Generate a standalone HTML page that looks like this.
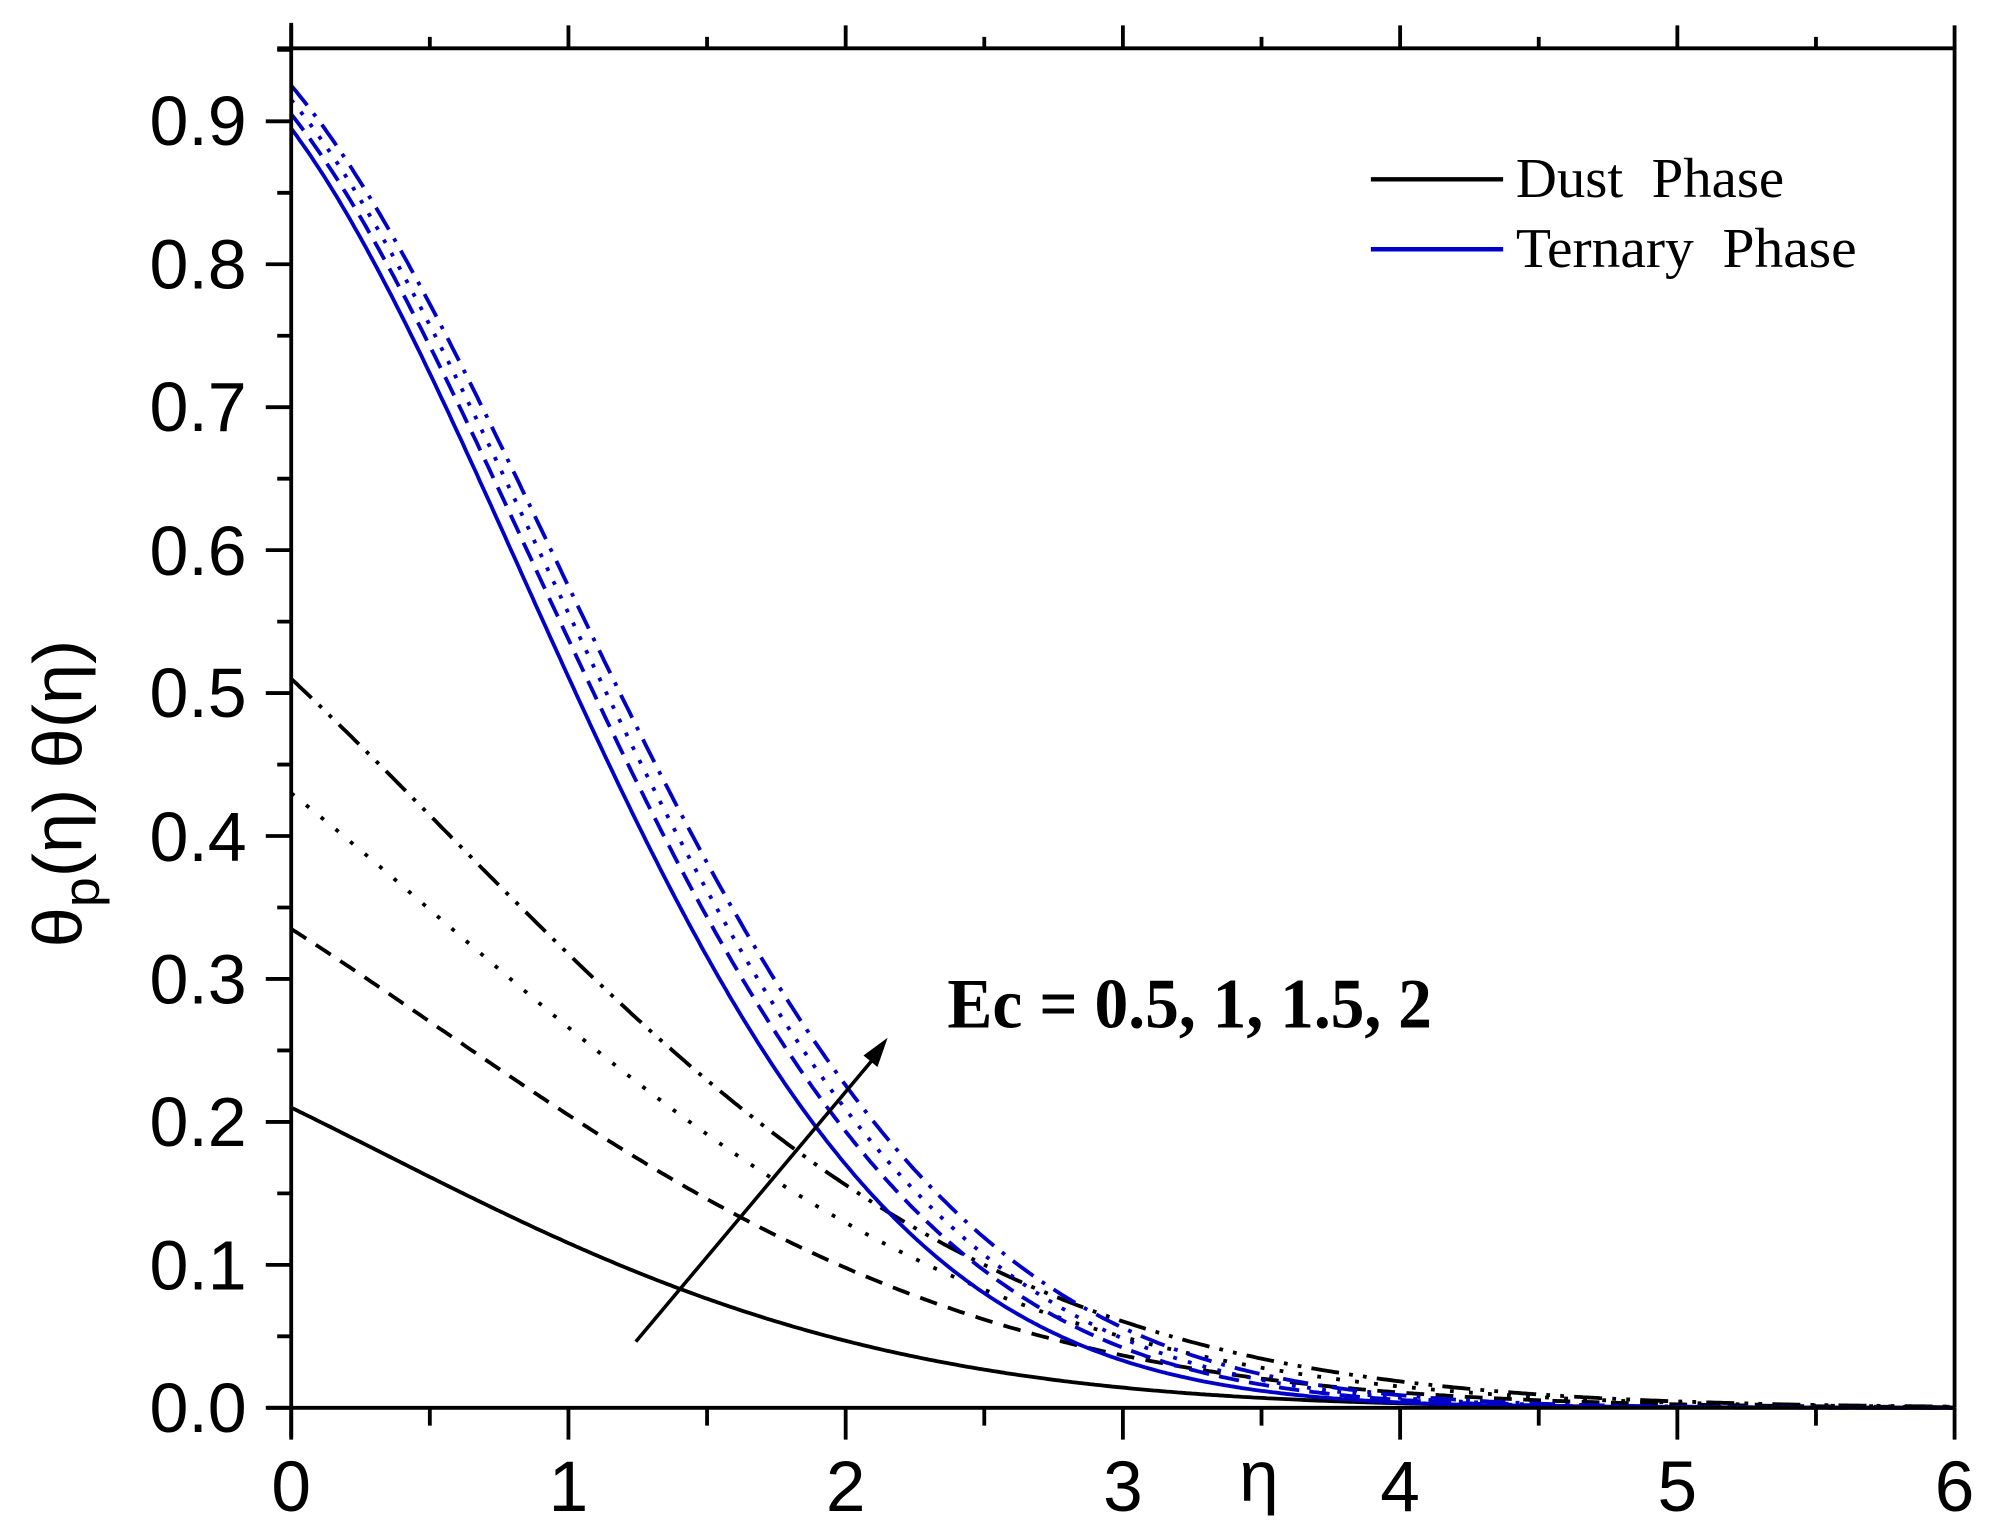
<!DOCTYPE html>
<html><head><meta charset="utf-8"><style>html,body{margin:0;padding:0;background:#fff}svg{display:block}</style></head>
<body>
<svg id="s" width="1994" height="1537" viewBox="0 0 1568 1208.6" preserveAspectRatio="none" xmlns="http://www.w3.org/2000/svg">
<rect width="1568" height="1208.6" fill="#fff"/>
<g id="curves" fill="none" stroke-width="3"></g>
<g stroke="#000" stroke-width="3" fill="none">
<path d="M229,18 V1130 M218,38 H1537 V1107 M210,1107 H1537"/>
<g id="ticks"></g>
</g>
<g font-family="Liberation Sans, sans-serif" font-size="55" fill="#000" text-anchor="end">
<text x="194" y="1126">0.0</text><text x="194" y="1014">0.1</text><text x="194" y="901">0.2</text>
<text x="194" y="789">0.3</text><text x="194" y="677">0.4</text><text x="194" y="564">0.5</text>
<text x="194" y="452">0.6</text><text x="194" y="339">0.7</text><text x="194" y="227">0.8</text>
<text x="194" y="114">0.9</text>
</g>
<g font-family="Liberation Sans, sans-serif" font-size="56" fill="#000" text-anchor="middle">
<text x="229" y="1188">0</text><text x="447" y="1188">1</text><text x="665" y="1188">2</text>
<text x="883" y="1188">3</text><text x="1101" y="1188">4</text><text x="1319" y="1188">5</text>
<text x="1537" y="1188">6</text><text x="990" y="1180">η</text>
</g>
<text transform="translate(64,745) rotate(-90)" font-family="Liberation Sans, sans-serif" font-size="54" textLength="242" lengthAdjust="spacingAndGlyphs">θ<tspan font-size="40" dy="14">p</tspan><tspan dy="-14">(η) θ(η)</tspan></text>
<line x1="1078" y1="141" x2="1182" y2="141" stroke="#000" stroke-width="3.5"/>
<line x1="1078" y1="196" x2="1182" y2="196" stroke="#0000c8" stroke-width="3.5"/>
<g font-family="Liberation Serif, serif" font-size="44" fill="#000">
<text x="1192" y="155" xml:space="preserve" textLength="211" lengthAdjust="spacingAndGlyphs">Dust  Phase</text>
<text x="1192" y="210" xml:space="preserve" textLength="268" lengthAdjust="spacingAndGlyphs">Ternary  Phase</text>
</g>
<text x="745" y="808" font-family="Liberation Serif, serif" font-weight="bold" font-size="56" textLength="381" lengthAdjust="spacingAndGlyphs">Ec = 0.5, 1, 1.5, 2</text>
<line x1="500" y1="1055" x2="694" y2="824" stroke="#000" stroke-width="2.8"/>
<path d="M698,816 L679,830 L690,839 Z" fill="#000"/>
</svg>
<script>
var X=function(e){return 229+218*e},Y=function(v){return 1107-1124*v};
var t='';
for(var i=0;i<=12;i++){var x=229+109*i,l=(i%2==0)?25:14;t+='M'+x+',1107 V'+(1107+l)+' ';var l2=(i%2==0)?18:9;t+='M'+x+',38 V'+(38-l2)+' ';}
for(var j=0;j<=19;j++){var y=1107-56.2*j,l=(j%2==0)?20:11;t+='M229,'+y+' H'+(229-l)+' ';}
var tp=document.createElementNS('http://www.w3.org/2000/svg','path');tp.setAttribute('d',t);document.getElementById('ticks').appendChild(tp);
function curve(a,b,c,s,col,dash){var d='';for(var k=0;k<=600;k++){var e=k/100;var v=a*Math.exp(-(b*e+c*e*e)*s);d+=(k?'L':'M')+X(e).toFixed(1)+','+Y(v).toFixed(1);}
var p=document.createElementNS('http://www.w3.org/2000/svg','path');p.setAttribute('d',d);p.setAttribute('stroke',col);if(dash)p.setAttribute('stroke-dasharray',dash);document.getElementById('curves').appendChild(p);}
var K='#000',B='#0000c8';
curve(0.21,0.45,0.15,1,K,'');
curve(0.335,0.45,0.15,0.82,K,'14,9');
curve(0.43,0.45,0.15,0.8,K,'3,12');
curve(0.51,0.45,0.15,0.79,K,'22,8,3,8,3,8');
curve(0.895,0.29,0.27,1,B,'');
curve(0.905,0.29,0.27,0.93,B,'16,8');
curve(0.915,0.29,0.27,0.89,B,'3,9');
curve(0.925,0.29,0.27,0.85,B,'20,8,3,8');
</script>
</body></html>
